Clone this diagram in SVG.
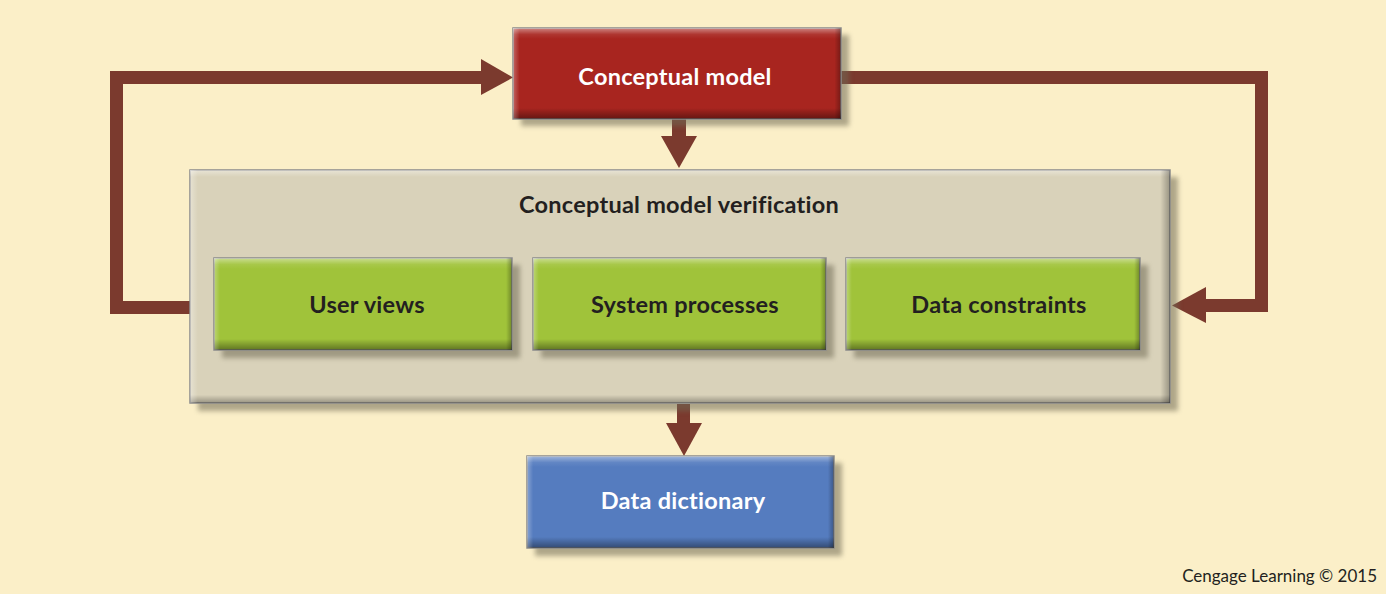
<svg xmlns="http://www.w3.org/2000/svg" width="1386" height="594" viewBox="0 0 1386 594">
<style>
.lbl{font-family:Lato,"Open Sans","Liberation Sans",sans-serif;font-weight:bold;font-size:23.5px;letter-spacing:0.25px;text-anchor:middle}
.w{fill:#ffffff}
.d{fill:#231f20}
.conn{fill:none;stroke:#7b3a2e;stroke-width:13;stroke-linejoin:miter}
.head{fill:#7b3a2e}
.frame{stroke:#8a8a8a;stroke-width:1.5}
.shadow{fill:#6f6a55;opacity:0.55;filter:url(#blur)}
</style>
<defs>
<filter id="blur" x="-10%" y="-10%" width="120%" height="130%"><feGaussianBlur stdDeviation="2.5"/></filter>
<linearGradient id="bv" x1="0" y1="0" x2="0" y2="1">
<stop offset="0" stop-color="#fff" stop-opacity="0.45"/>
<stop offset="0.07" stop-color="#fff" stop-opacity="0.08"/>
<stop offset="0.12" stop-color="#fff" stop-opacity="0"/>
<stop offset="0.88" stop-color="#000" stop-opacity="0"/>
<stop offset="0.94" stop-color="#000" stop-opacity="0.2"/>
<stop offset="1" stop-color="#000" stop-opacity="0.4"/>
</linearGradient>
<linearGradient id="bh" x1="0" y1="0" x2="1" y2="0">
<stop offset="0" stop-color="#fff" stop-opacity="0.3"/>
<stop offset="0.02" stop-color="#fff" stop-opacity="0"/>
<stop offset="0.98" stop-color="#000" stop-opacity="0"/>
<stop offset="1" stop-color="#000" stop-opacity="0.3"/>
</linearGradient>
<linearGradient id="bvc" x1="0" y1="0" x2="0" y2="1">
<stop offset="0" stop-color="#fff" stop-opacity="0.4"/>
<stop offset="0.03" stop-color="#fff" stop-opacity="0"/>
<stop offset="0.965" stop-color="#000" stop-opacity="0"/>
<stop offset="1" stop-color="#000" stop-opacity="0.3"/>
</linearGradient>
<linearGradient id="bhc" x1="0" y1="0" x2="1" y2="0">
<stop offset="0" stop-color="#fff" stop-opacity="0.35"/>
<stop offset="0.008" stop-color="#fff" stop-opacity="0"/>
<stop offset="0.99" stop-color="#000" stop-opacity="0"/>
<stop offset="1" stop-color="#000" stop-opacity="0.3"/>
</linearGradient>
</defs>
<rect width="1386" height="594" fill="#fbefc8"/>

<g id="connectors">
<polyline class="conn" points="190,307.5 116.5,307.5 116.5,77.5 482,77.5"/>
<polygon class="head" points="481,59 513,77.5 481,95"/>
<polyline class="conn" points="841,77.5 1261.5,77.5 1261.5,305.5 1205,305.5"/>
<polygon class="head" points="1206,287 1172,305.5 1206,323"/>
<rect class="head" x="672" y="119" width="14" height="18"/>
<polygon class="head" points="661,136 697,136 679,168"/>
<rect class="head" x="677" y="404" width="13" height="20"/>
<polygon class="head" points="666,423 702,423 684,456"/>
</g>

<g id="verification">
<rect class="shadow" x="198" y="177" width="980" height="234"/>
<rect class="frame" x="190" y="170" width="980" height="233" fill="#d9d2ba"/>
<rect x="190" y="170" width="980" height="233" fill="url(#bvc)"/>
<rect x="190" y="170" width="980" height="233" fill="url(#bhc)"/>
<text class="lbl d" x="679" y="213">Conceptual model verification</text>
</g>

<g id="conceptual-model">
<rect class="shadow" x="521" y="35" width="328" height="91"/>
<rect class="frame" x="513" y="28" width="328" height="91" fill="#a8251f"/>
<rect x="513" y="28" width="328" height="91" fill="url(#bv)"/>
<rect x="513" y="28" width="328" height="91" fill="url(#bh)"/>
<text class="lbl w" x="675" y="85">Conceptual model</text>
</g>

<g id="user-views">
<rect class="shadow" x="222" y="265" width="298" height="93"/>
<rect class="frame" x="214" y="258" width="298" height="92" fill="#a0c33a"/>
<rect x="214" y="258" width="298" height="92" fill="url(#bv)"/>
<rect x="214" y="258" width="298" height="92" fill="url(#bh)"/>
<text class="lbl d" x="367" y="313">User views</text>
</g>

<g id="system-processes">
<rect class="shadow" x="541" y="265" width="293" height="93"/>
<rect class="frame" x="533" y="258" width="293" height="92" fill="#a0c33a"/>
<rect x="533" y="258" width="293" height="92" fill="url(#bv)"/>
<rect x="533" y="258" width="293" height="92" fill="url(#bh)"/>
<text class="lbl d" x="685" y="313">System processes</text>
</g>

<g id="data-constraints">
<rect class="shadow" x="854" y="265" width="294" height="93"/>
<rect class="frame" x="846" y="258" width="294" height="92" fill="#a0c33a"/>
<rect x="846" y="258" width="294" height="92" fill="url(#bv)"/>
<rect x="846" y="258" width="294" height="92" fill="url(#bh)"/>
<text class="lbl d" x="999" y="313">Data constraints</text>
</g>

<g id="data-dictionary">
<rect class="shadow" x="535" y="463" width="307" height="93"/>
<rect class="frame" x="527" y="456" width="307" height="92" fill="#557cbf"/>
<rect x="527" y="456" width="307" height="92" fill="url(#bv)"/>
<rect x="527" y="456" width="307" height="92" fill="url(#bh)"/>
<text class="lbl w" x="683" y="509">Data dictionary</text>
</g>

<text x="1377" y="582" font-family="Lato,'Open Sans','Liberation Sans',sans-serif" font-size="17" fill="#231f20" text-anchor="end">Cengage Learning © 2015</text>
</svg>
